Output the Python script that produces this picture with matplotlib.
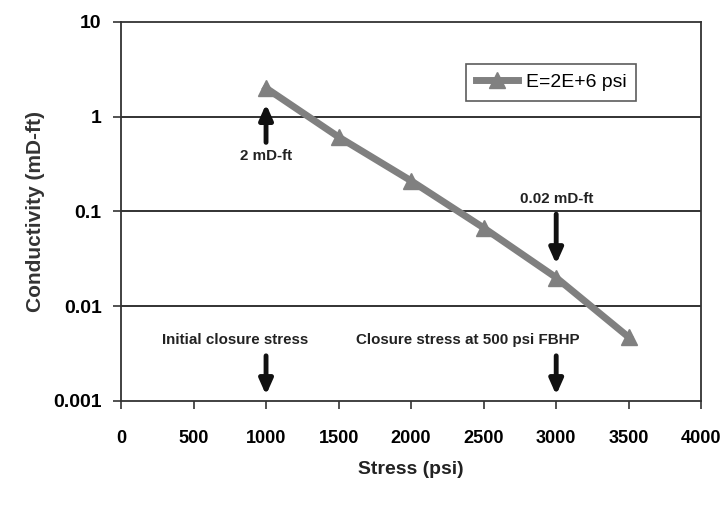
import matplotlib
matplotlib.use("Agg")
from matplotlib import pyplot as plt
from matplotlib import font_manager
from matplotlib.ticker import FixedLocator, FixedFormatter

# data
stress = [1000, 1500, 2000, 2500, 3000, 3500]
conductivity = [2.0, 0.61, 0.21, 0.067, 0.020, 0.0047]
series_label = "E=2E+6 psi"
x_ticks = [0, 500, 1000, 1500, 2000, 2500, 3000, 3500, 4000]
y_ticks = [0.001, 0.01, 0.1, 1, 10]
y_labels = ["0.001", "0.01", "0.1", "1", "10"]

# a narrow face if the box has one, else plain Liberation Sans a bit smaller
names = {f.name for f in font_manager.fontManager.ttflist}
if "Liberation Sans Narrow" in names:
    narrow, scale = ["Liberation Sans Narrow", "DejaVu Sans"], 1.0
else:
    narrow, scale = ["Liberation Sans", "DejaVu Sans"], 0.87

fig = plt.figure(figsize=(7.2, 5.2), dpi=100)
ax = fig.add_axes([0.168, 0.229, 0.806, 0.729])

ax.set_yscale("log")
ax.set_xlim(0, 4000)
ax.set_ylim(0.001, 10)

for g in [0.01, 0.1, 1]:
    ax.axhline(g, color="#222222", lw=1.3, zorder=1)

ax.plot(stress, conductivity, color="#808080", lw=5, marker="^", ms=12,
        markeredgecolor="#808080", label=series_label, zorder=3)

ax.xaxis.set_major_locator(FixedLocator(x_ticks))
ax.yaxis.set_major_locator(FixedLocator(y_ticks))
ax.yaxis.set_major_formatter(FixedFormatter(y_labels))
ax.yaxis.set_minor_locator(FixedLocator([]))
ax.tick_params(axis="both", direction="out", length=6, width=1.2, color="#333333")
ax.tick_params(axis="x", pad=15)
ax.tick_params(axis="y", pad=8)
for lab in ax.get_xticklabels():
    lab.set_family(narrow)
    lab.set_fontweight("bold")
    lab.set_fontsize(15 * scale)
for lab in ax.get_yticklabels():
    lab.set_family(narrow)
    lab.set_fontweight("bold")
    lab.set_fontsize(16 * scale)

for s in ax.spines.values():
    s.set_color("#333333")
    s.set_linewidth(1.3)

ax.set_xlabel("Stress (psi)", family=narrow, fontweight="bold", fontsize=16 * scale,
              labelpad=10, color="#222222")
ax.set_ylabel("Conductivity (mD-ft)", family=["Liberation Sans", "DejaVu Sans"],
              fontweight="bold", fontsize=15, labelpad=6, color="#333333")

# annotations
arrow = dict(arrowstyle="-|>,head_length=0.9,head_width=0.4", color="#111111", lw=3.5)
txt = dict(family=narrow, fontweight="bold", fontsize=12.5 * scale, ha="center",
           va="center", color="#222222")

ax.annotate("", xy=(1000, 1.45), xytext=(1000, 0.5), arrowprops=arrow)
ax.text(1000, 0.38, "2 mD-ft", **txt)

ax.annotate("", xy=(3000, 0.026), xytext=(3000, 0.1), arrowprops=arrow)
ax.text(3000, 0.135, "0.02 mD-ft", **txt)

ax.text(790, 0.0044, "Initial closure stress", **txt)
ax.annotate("", xy=(1000, 0.00108), xytext=(1000, 0.0032), arrowprops=arrow)

ax.text(2390, 0.0044, "Closure stress at 500 psi FBHP", **txt)
ax.annotate("", xy=(3000, 0.00108), xytext=(3000, 0.0032), arrowprops=arrow)

leg = ax.legend(loc="upper right", bbox_to_anchor=(0.905, 0.915), frameon=True,
                fancybox=False, handlelength=2.2, handletextpad=0.4, borderpad=0.5,
                prop={"family": narrow, "size": 16 * scale})
leg.get_frame().set_edgecolor("#333333")
leg.get_frame().set_linewidth(1.2)

fig.savefig("out.png", dpi=100)
